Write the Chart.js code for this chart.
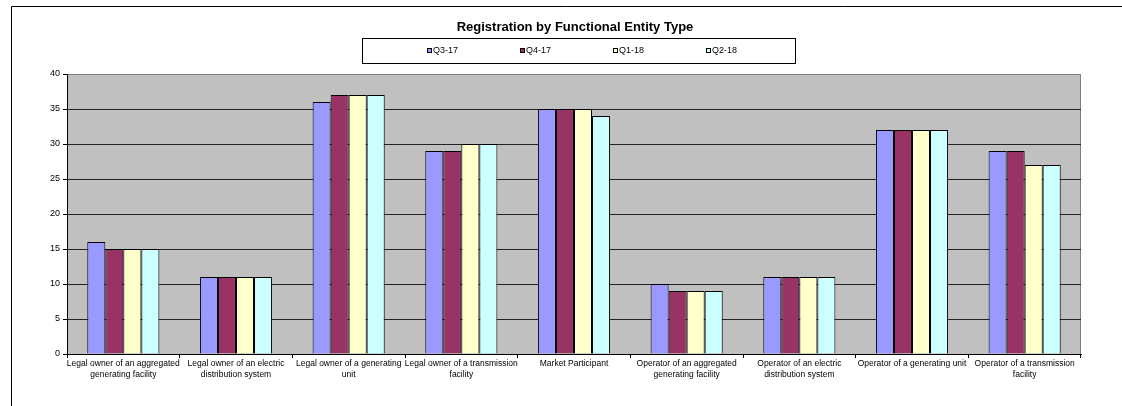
<!DOCTYPE html>
<html>
<head>
<meta charset="utf-8">
<script src="https://cdn.jsdelivr.net/npm/chart.js@4.4.1/dist/chart.umd.min.js"></script>
<style>
  html, body { margin: 0; padding: 0; background: #fff; }
  #wrap { width: 1122px; height: 406px; position: relative; }
</style>
</head>
<body>
<div id="wrap"><canvas id="regChart" width="1122" height="406"></canvas></div>
<script>
// categories, each split over the lines it uses under the axis
const categories = [
    ['Legal owner of an aggregated', 'generating facility'],
    ['Legal owner of an electric', 'distribution system'],
    ['Legal owner of a generating', 'unit'],
    ['Legal owner of a transmission', 'facility'],
    'Market Participant',
    ['Operator of an aggregated', 'generating facility'],
    ['Operator of an electric', 'distribution system'],
    'Operator of a generating unit',
    ['Operator of a transmission', 'facility']
];

const q3_17 = [16, 11, 36, 29, 35, 10, 11, 32, 29];
const q4_17 = [15, 11, 37, 29, 35, 9, 11, 32, 29];
const q1_18 = [15, 11, 37, 30, 35, 9, 11, 32, 27];
const q2_18 = [15, 11, 37, 30, 34, 9, 11, 32, 27];

const seriesNames = ['Q3-17', 'Q4-17', 'Q1-18', 'Q2-18'];
const yTicks = [0, 5, 10, 15, 20, 25, 30, 35, 40];

const colors = ['#9999FF', '#993366', '#FFFFCC', '#CCFFFF'];
const FONT = '"Liberation Sans", Arial, sans-serif';

// grey plot area, outer frame, title and the boxed legend
const decor = {
    id: 'decor',
    beforeDraw(chart) {
        const ctx = chart.ctx;
        const a = chart.chartArea;
        ctx.save();
        ctx.fillStyle = '#fff';
        ctx.fillRect(0, 0, chart.width, chart.height);
        // outer frame (top + left only are visible)
        ctx.strokeStyle = '#000';
        ctx.lineWidth = 1;
        ctx.beginPath();
        ctx.moveTo(11.5, chart.height);
        ctx.lineTo(11.5, 6.5);
        ctx.lineTo(chart.width, 6.5);
        ctx.stroke();
        // plot background
        ctx.fillStyle = '#C0C0C0';
        ctx.fillRect(a.left, a.top, a.right - a.left, a.bottom - a.top);
        ctx.strokeStyle = '#808080';
        ctx.strokeRect(a.left + 0.5, a.top + 0.5, a.right - a.left - 1, a.bottom - a.top);
        ctx.restore();
    },
    afterDraw(chart) {
        const ctx = chart.ctx;
        ctx.save();
        // title
        ctx.fillStyle = '#000';
        ctx.font = 'bold 13px ' + FONT;
        ctx.textAlign = 'center';
        ctx.textBaseline = 'middle';
        ctx.fillText('Registration by Functional Entity Type', 575, 27);
        // legend box
        ctx.strokeStyle = '#000';
        ctx.lineWidth = 1;
        ctx.strokeRect(362.5, 38.5, 433, 25);
        ctx.font = '9px ' + FONT;
        ctx.textAlign = 'left';
        const xs = [427, 520, 613, 706];
        chart.data.datasets.forEach((ds, i) => {
            ctx.fillStyle = ds.backgroundColor;
            ctx.fillRect(xs[i], 48, 5, 5);
            ctx.strokeStyle = '#000';
            ctx.strokeRect(xs[i] + 0.5, 48.5, 4, 4);
            ctx.fillStyle = '#000';
            ctx.fillText(ds.label, xs[i] + 6, 51);
        });
        ctx.restore();
    }
};

const ctx = document.getElementById('regChart').getContext('2d');
new Chart(ctx, {
    type: 'bar',
    data: {
        labels: categories,
        datasets: [q3_17, q4_17, q1_18, q2_18].map((vals, i) => ({
            label: seriesNames[i],
            data: vals,
            backgroundColor: colors[i],
            borderColor: '#000',
            borderWidth: 1,
            barPercentage: 1.0,
            categoryPercentage: 0.64
        }))
    },
    options: {
        responsive: false,
        animation: false,
        layout: { padding: { top: 74, right: 41, left: 0, bottom: 0 } },
        plugins: {
            legend: { display: false },
            title: { display: false },
            tooltip: { enabled: false }
        },
        scales: {
            x: {
                offset: true,
                grid: {
                    offset: true,
                    drawOnChartArea: false,
                    drawTicks: true,
                    tickLength: 4,
                    color: '#000'
                },
                border: { color: '#000', width: 1 },
                ticks: {
                    color: '#000',
                    font: { family: FONT, size: 8.5, lineHeight: 1.2 },
                    maxRotation: 0,
                    autoSkip: false,
                    padding: 1
                },
                afterFit(scale) { scale.height = 52; }
            },
            y: {
                min: 0,
                max: 40,
                afterBuildTicks(scale) {
                    scale.ticks = yTicks.map(v => ({ value: v }));
                },
                grid: {
                    color: (c) => (c.tick && c.tick.value === 40) ? '#808080' : '#222',
                    lineWidth: 1,
                    drawTicks: true,
                    tickLength: 4,
                    tickColor: '#000'
                },
                border: { color: '#000', width: 1 },
                ticks: {
                    color: '#000',
                    font: { family: FONT, size: 9 },
                    padding: 3
                },
                afterFit(scale) { scale.width = 67; }
            }
        }
    },
    plugins: [decor]
});
</script>
</body>
</html>
